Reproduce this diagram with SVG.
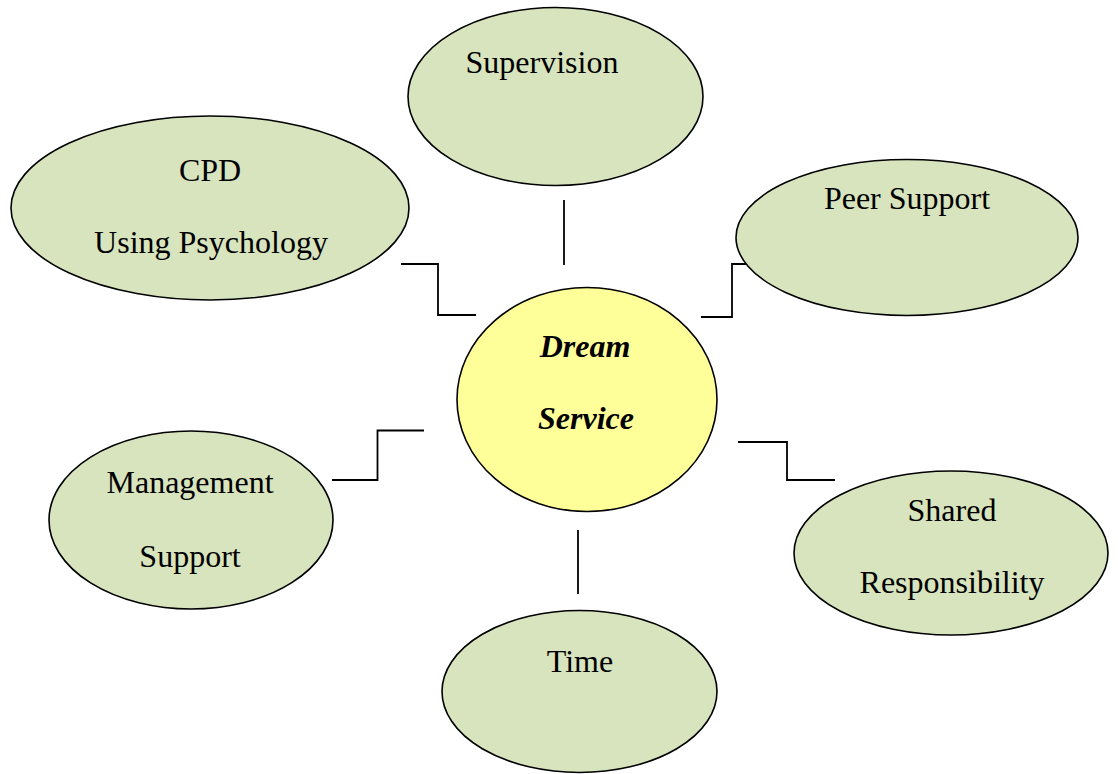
<svg xmlns="http://www.w3.org/2000/svg" width="1118" height="774" viewBox="0 0 1118 774">
<style>
.n{fill:#D7E4BD;stroke:#000;stroke-width:1.6}
.c{fill:#FFFF99;stroke:#000;stroke-width:1.6}
.t{font-family:"Liberation Serif","Times New Roman",serif;font-size:32px;fill:#000;text-anchor:middle}
.b{font-weight:bold;font-style:italic}
.l{fill:none;stroke:#000;stroke-width:1.8}
</style>
<rect width="1118" height="774" fill="#fff"/>
<g id="connectors">
<path class="l" d="M564 200V265"/>
<path class="l" d="M401 264H438V315H476"/>
<path class="l" d="M701 317H732V264H762"/>
<path class="l" d="M332 480H377.5V430.5H424"/>
<path class="l" d="M738 442H787V480H835"/>
<path class="l" d="M578 530V594"/>
</g>
<g id="supervision">
<ellipse class="n" cx="555.5" cy="96.5" rx="147.5" ry="89"/>
<text class="t" x="542" y="73">Supervision</text>
</g>
<g id="cpd">
<ellipse class="n" cx="210" cy="208" rx="199" ry="92"/>
<text class="t" x="210" y="181">CPD</text>
<text class="t" x="211" y="253">Using Psychology</text>
</g>
<g id="peer-support">
<ellipse class="n" cx="907" cy="237.5" rx="171" ry="78"/>
<text class="t" x="907" y="209">Peer Support</text>
</g>
<g id="dream-service">
<ellipse class="c" cx="587" cy="399.5" rx="130" ry="112"/>
<text class="t b" x="585" y="357">Dream</text>
<text class="t b" x="586" y="429">Service</text>
</g>
<g id="management-support">
<ellipse class="n" cx="191" cy="520" rx="142" ry="89"/>
<text class="t" x="190" y="493">Management</text>
<text class="t" x="190" y="567">Support</text>
</g>
<g id="shared-responsibility">
<ellipse class="n" cx="951" cy="553" rx="157" ry="82"/>
<text class="t" x="952" y="521">Shared</text>
<text class="t" x="952" y="593">Responsibility</text>
</g>
<g id="time">
<ellipse class="n" cx="579.5" cy="691.5" rx="137.5" ry="81"/>
<text class="t" x="580" y="672">Time</text>
</g>
</svg>
